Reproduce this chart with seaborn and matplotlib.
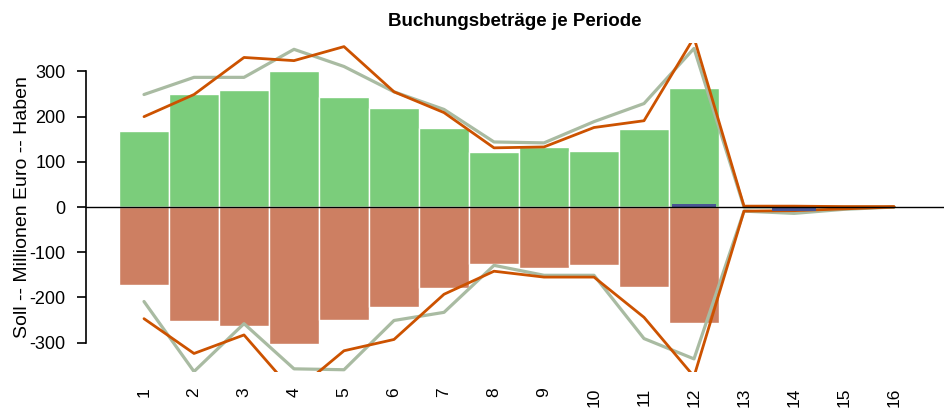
import numpy as np
import pandas as pd
import matplotlib
matplotlib.use("Agg")
import matplotlib.pyplot as plt
import seaborn as sns

periods = [str(i) for i in range(1, 17)]
haben = [169, 251, 260, 300, 243, 220, 176, 122, 133, 125, 173, 264, 0, 0, 0, 0]
soll = [-173, -253, -264, -304, -249, -222, -180, -125, -135, -129, -176, -257, 0, 0, 0, 0]
sonstige = [0, 0, 0, 0, 0, 0, 0, 0, 0, 0, 0, 6, 0, -9, 0, 0]

upper_orange = [200, 249, 331, 324, 355, 255, 209, 131, 133, 176, 191, 375, 2, 2, 1, 1]
lower_orange = [-247, -324, -283, -410, -318, -293, -193, -142, -155, -155, -244, -375, -9, -8, -4, 0]
upper_gray = [249, 287, 287, 349, 311, 255, 216, 144, 142, 189, 229, 351, 0, 0, 0, 0]
lower_gray = [-209, -364, -258, -358, -360, -251, -233, -129, -151, -151, -291, -336, -9, -14, -5, 0]

title = "Buchungsbeträge je Periode"
ylabel = "Soll -- Millionen Euro -- Haben"

sns.set_theme(style="white")
plt.rcParams["font.family"] = ["Liberation Sans", "DejaVu Sans"]
plt.rcParams["text.color"] = "black"
plt.rcParams["axes.labelcolor"] = "black"
plt.rcParams["xtick.color"] = "black"
plt.rcParams["ytick.color"] = "black"

fig = plt.figure(figsize=(9.44, 4.11), dpi=100)
ax = fig.add_axes([86 / 944, 39 / 411, 1 - 86 / 944, (372 - 43) / 411])

df = pd.DataFrame({"Periode": periods, "Haben": haben, "Soll": soll, "Sonst": sonstige})

sns.barplot(data=df, x="Periode", y="Haben", color="#7BCD7B", saturation=1, width=1.0,
            edgecolor="white", linewidth=1.0, ax=ax)
sns.barplot(data=df, x="Periode", y="Soll", color="#CD7F62", saturation=1, width=1.0,
            edgecolor="white", linewidth=1.0, ax=ax)

xpos = np.arange(len(periods))
sns.lineplot(x=xpos, y=upper_gray, color="#A9BBA2", linewidth=2.3, ax=ax)
sns.lineplot(x=xpos, y=lower_gray, color="#A9BBA2", linewidth=2.3, ax=ax)
sns.lineplot(x=xpos, y=upper_orange, color="#CC5200", linewidth=2.0, ax=ax)
sns.lineplot(x=xpos, y=lower_orange, color="#CC5200", linewidth=2.0, ax=ax)

sns.barplot(data=df, x="Periode", y="Sonst", color="#4A5694", saturation=1, width=0.9,
            linewidth=0, ax=ax, zorder=4)

ax.axhline(0, color="black", linewidth=1.0, zorder=5)

ax.set_xlim(-1.16, 16.0)
ax.set_ylim(-365, 363)

for s in ["top", "right", "bottom"]:
    ax.spines[s].set_visible(False)
ax.spines["left"].set_bounds(-300, 300)
ax.spines["left"].set_color("black")
ax.spines["left"].set_linewidth(1.2)

ax.set_yticks([-300, -200, -100, 0, 100, 200, 300])
ax.set_yticklabels(["-300", "-200", "-100", "0", "100", "200", "300"])
ax.tick_params(axis="y", left=True, length=6.5, width=1.2, color="black", labelsize=13, pad=8)
ax.tick_params(axis="x", bottom=False, labelsize=12.5, pad=5, labelrotation=90)

ax.set_xlabel("")
ax.set_ylabel(ylabel, fontsize=14, labelpad=-1)
ax.set_title(title, fontsize=13.5, fontweight="bold", pad=12)

fig.savefig("out.png", dpi=100)
